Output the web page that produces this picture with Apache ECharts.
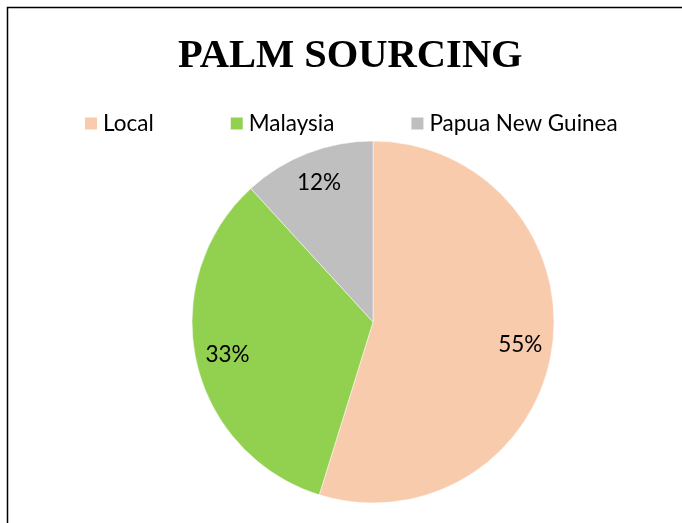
<!DOCTYPE html>
<html>
<head>
<meta charset="utf-8">
<script src="https://cdn.jsdelivr.net/npm/echarts@6/dist/echarts.min.js"></script>
<style>
  html, body { margin: 0; padding: 0; background: #fff; }
  #chart { width: 682px; height: 523px; }
</style>
</head>
<body>
<div id="chart"></div>
<script>
// values (shares of palm sourcing, %)
var regions = ['Local', 'Malaysia', 'Papua New Guinea'];
var shares = [54.8, 33.4, 11.8];
var colors = ['#F8CBAD', '#92D050', '#BFBFBF'];

var chart = echarts.init(document.getElementById('chart'));

var pieData = regions.map(function (name, i) {
  return { name: name, value: shares[i], itemStyle: { color: colors[i] } };
});

var option = {
  backgroundColor: '#fff',
  animation: false,
  title: {
    text: 'PALM SOURCING',
    left: 173,
    top: 31,
    textStyle: {
      fontFamily: 'Liberation Serif',
      fontWeight: 'bold',
      fontSize: 40.5,
      color: '#000'
    }
  },
  legend: {
    data: regions,
    left: 78,
    top: 107,
    itemWidth: 14,
    itemHeight: 14,
    itemGap: 75,
    icon: 'rect',
    textStyle: {
      fontFamily: 'Lato',
      fontSize: 22.5,
      color: '#000'
    }
  },
  graphic: [{
    type: 'rect',
    shape: { x: 7.5, y: 7.5, width: 800, height: 700 },
    style: { fill: 'none', stroke: '#000', lineWidth: 1.5 },
    silent: true
  }],
  series: [
    {
      name: 'Palm sourcing',
      type: 'pie',
      center: [373, 322],
      radius: 181,
      startAngle: 90,
      clockwise: true,
      data: pieData,
      itemStyle: { borderColor: '#fff', borderWidth: 0.5 },
      label: { show: false },
      labelLine: { show: false },
      emphasis: { disabled: true }
    },
    {
      // transparent twin pie, only to place the percent labels further out
      name: 'labels',
      type: 'pie',
      center: [373, 322],
      radius: 292,
      startAngle: 90,
      clockwise: true,
      silent: true,
      data: regions.map(function (name, i) {
        return { name: name, value: shares[i] };
      }),
      itemStyle: { color: 'rgba(0,0,0,0)', borderWidth: 0 },
      percentPrecision: 0,
      label: {
        show: true,
        position: 'inside',
        formatter: '{d}%',
        fontFamily: 'Lato',
        fontSize: 22.5,
        color: '#000'
      },
      labelLine: { show: false },
      emphasis: { disabled: true }
    }
  ]
};

chart.setOption(option);
</script>
</body>
</html>
